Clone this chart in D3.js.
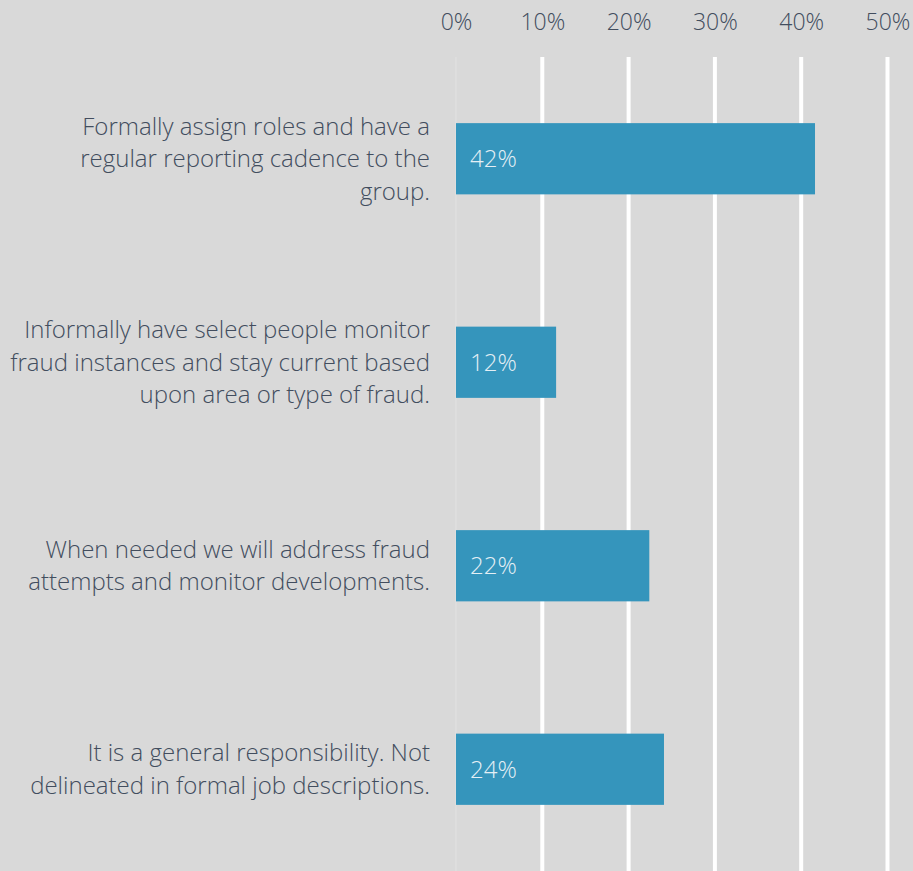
<!DOCTYPE html>
<html>
<head>
<meta charset="utf-8">
<script src="https://cdn.jsdelivr.net/npm/d3@7"></script>
<style>
  body { margin: 0; background: #d9d9d9; }
  svg { display: block; font-family: "Open Sans", sans-serif; font-weight: 300; }
</style>
</head>
<body>
<svg id="chart" width="913" height="871"></svg>
<script>
const categories = [
    ["Formally assign roles and have a", "regular reporting cadence to the", "group."],
    ["Informally have select people monitor", "fraud instances and stay current based", "upon area or type of fraud."],
    ["When needed we will address fraud", "attempts and monitor developments."],
    ["It is a general responsibility. Not", "delineated in formal job descriptions."]
]
const values = [41.6, 11.6, 22.4, 24.1]
const valueLabels = ["42%", "12%", "22%", "24%"]
const ticks = [0, 10, 20, 30, 40, 50]

const svg = d3.select("#chart")
const width = 913, height = 871
const fontSize = 24

const x = d3.scaleLinear().domain([0, 50]).range([456, 887.5])
const y = d3.scaleBand()
    .domain(d3.range(categories.length))
    .range([57, height])
    .paddingInner(0.65)
    .paddingOuter(0.325)

svg.append("rect").attr("width", width).attr("height", height).attr("fill", "#d9d9d9")

// grid lines
svg.append("g").selectAll("line")
    .data(ticks)
    .join("line")
    .attr("x1", d => x(d)).attr("x2", d => x(d))
    .attr("y1", 57).attr("y2", height)
    .attr("stroke", d => d === 0 ? "#e2e2e2" : "#ffffff")
    .attr("stroke-width", d => d === 0 ? 1 : 4)

// top axis
const axis = svg.append("g")
    .attr("transform", "translate(0,30)")
    .call(d3.axisTop(x).tickValues(ticks).tickFormat(d => d + "%").tickSize(0).tickPadding(0))
axis.select(".domain").remove()
axis.selectAll("text")
    .attr("font-family", "Open Sans, sans-serif")
    .attr("font-weight", 300)
    .attr("font-size", 23)
    .attr("fill", "#424d5e")

// bars
svg.append("g").selectAll("rect")
    .data(values)
    .join("rect")
    .attr("x", x(0))
    .attr("y", (d, i) => y(i))
    .attr("width", d => x(d) - x(0))
    .attr("height", y.bandwidth())
    .attr("fill", "#3595bc")

svg.append("g").selectAll("text")
    .data(valueLabels)
    .join("text")
    .attr("x", x(0) + 14)
    .attr("y", (d, i) => y(i) + y.bandwidth() / 2)
    .attr("dy", "0.35em")
    .attr("font-size", fontSize)
    .attr("fill", "#e4eff5")
    .text(d => d)

// category labels
const lineH = 32.5
const labels = svg.append("g").selectAll("text")
    .data(categories)
    .join("text")
    .attr("text-anchor", "end")
    .attr("font-size", fontSize)
    .attr("fill", "#424d5e")
    .attr("transform", (d, i) => `translate(430,${y(i) + y.bandwidth() / 2 - (d.length - 1) * lineH / 2})`)

labels.selectAll("tspan")
    .data(d => d)
    .join("tspan")
    .attr("x", 0)
    .attr("y", (d, i) => i * lineH)
    .attr("dy", "0.35em")
    .text(d => d)
</script>
</body>
</html>
